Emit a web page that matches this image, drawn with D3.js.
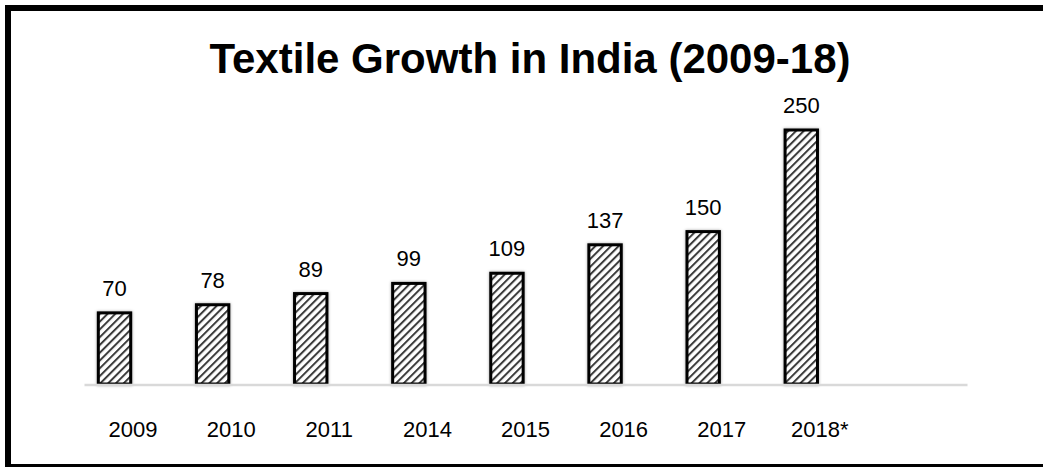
<!DOCTYPE html>
<html>
<head>
<meta charset="utf-8">
<script src="https://cdn.jsdelivr.net/npm/d3@7"></script>
<style>
  html, body { margin: 0; padding: 0; background: #fff; }
  svg { display: block; }
</style>
</head>
<body>
<svg id="chart" width="1043" height="467"></svg>
<script>
// Textile sector size by year (USD bn)
const years = ["2009", "2010", "2011", "2014", "2015", "2016", "2017", "2018*"];
const values = [70, 78, 89, 99, 109, 137, 150, 250];
const title = "Textile Growth in India (2009-18)";

const W = 1043, H = 467;
const svg = d3.select("#chart");
const font = "'Liberation Sans', Arial, sans-serif";

// diagonal hatch fill for the bars
const defs = svg.append("defs");
const pat = defs.append("pattern")
  .attr("id", "hatch")
  .attr("patternUnits", "userSpaceOnUse")
  .attr("width", 5.5).attr("height", 5.5)
  .attr("patternTransform", "rotate(45)");
pat.append("rect").attr("width", 5.5).attr("height", 5.5).attr("fill", "#fff");
pat.append("rect").attr("x", 0).attr("y", 0).attr("width", 2).attr("height", 5.5).attr("fill", "#3a3a3a");

const shadow = defs.append("filter").attr("id", "soft")
  .attr("x", "-30%").attr("y", "-10%").attr("width", "160%").attr("height", "120%");
shadow.append("feDropShadow").attr("dx", 0).attr("dy", 0)
  .attr("stdDeviation", 1.6).attr("flood-color", "#000").attr("flood-opacity", 0.35);

// outer frame
svg.append("rect")
  .attr("x", 8).attr("y", 8)
  .attr("width", W + 10).attr("height", H - 8)
  .attr("fill", "none").attr("stroke", "#000").attr("stroke-width", 6);

// title
svg.append("text")
  .attr("x", 530).attr("y", 73)
  .attr("text-anchor", "middle")
  .attr("font-family", font).attr("font-weight", "bold").attr("font-size", 42)
  .attr("fill", "#000")
  .text(title);

// one spare empty slot on the right of the category axis
const domain = years.concat([""]);
const x = d3.scaleBand().domain(domain).range([84, 967]).paddingInner(0).paddingOuter(0);
const baseY = 384;
const y = d3.scaleLinear().domain([0, 250]).range([baseY, 130]);

const barOffset = x.step() * 0.146;
const barWidth = x.step() * 0.33;

// bars
svg.append("g").selectAll("rect")
  .data(values)
  .join("rect")
  .attr("x", (d, i) => x(years[i]) + barOffset)
  .attr("y", d => y(d))
  .attr("width", barWidth)
  .attr("height", d => baseY - y(d))
  .attr("fill", "url(#hatch)")
  .attr("stroke", "#000")
  .attr("stroke-width", 3)
  .attr("filter", "url(#soft)");

// value labels
svg.append("g").selectAll("text")
  .data(values)
  .join("text")
  .attr("x", (d, i) => x(years[i]) + barOffset + barWidth / 2)
  .attr("y", d => y(d) - 17)
  .attr("text-anchor", "middle")
  .attr("font-family", font).attr("font-size", 22)
  .attr("fill", "#000")
  .text(d => d);

// category axis
const axis = svg.append("g")
  .attr("transform", `translate(0,${baseY + 0.5})`)
  .call(d3.axisBottom(x).tickSize(0).tickPadding(0));
axis.select(".domain").attr("stroke", "#d9d9d9").attr("stroke-width", 2.5);
axis.selectAll(".tick text")
  .attr("y", 52)
  .attr("dy", 0)
  .attr("font-family", font).attr("font-size", 22)
  .attr("fill", "#000");
</script>
</body>
</html>
